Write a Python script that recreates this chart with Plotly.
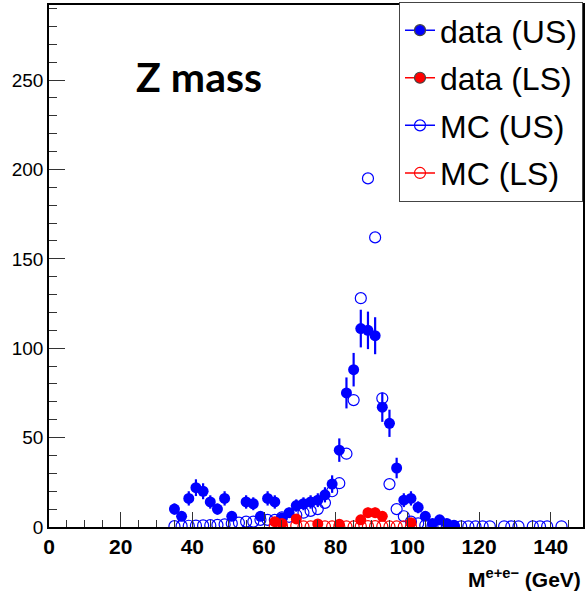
import numpy as np
import plotly.graph_objects as go

# ---- data (bin centres in GeV, 2 GeV bins) ----
data_us_x = [35, 37, 39, 41, 43, 45, 47, 49, 51, 55, 57, 59, 61, 63, 65, 67, 69, 71, 73, 75,
             77, 79, 81, 83, 85, 87, 89, 91, 93, 95, 97, 99, 101, 103, 105, 107, 109, 111, 113]
data_us_y = [10, 6, 16, 22, 20, 14, 10, 16, 6, 14, 13, 6, 16, 14, 5, 8, 12, 13, 14, 15,
             18, 24, 43, 75, 88, 111, 110, 107, 67, 58, 33, 15, 16, 11, 6, 2, 4, 2, 1]

data_ls_x = [63, 65, 69, 75, 81, 87, 89, 91, 93, 101]
data_ls_y = [3, 2, 4.5, 1.7, 1.6, 4, 8, 8, 6, 2.4]

mc_us_x = [35, 37, 39, 41, 43, 45, 47, 49, 51, 53, 55, 57, 59, 61, 63, 65, 67, 69, 71, 73,
           75, 77, 79, 81, 83, 85, 87, 89, 91, 93, 95, 97, 99, 101, 103, 105, 107, 109, 111,
           113, 115, 117, 119, 121, 123, 127, 129, 131, 135, 137, 139, 143]
mc_us_y = [0.5, 0.6, 0.7, 0.8, 0.9, 1.0, 1.2, 1.5, 2, 2.4, 3, 3, 4, 4, 4, 5.4, 5.7, 6.7, 8, 9,
           10, 13.5, 20, 24.5, 41, 71, 128, 195, 162, 72, 24, 10, 6, 3, 2, 1, 0.6, 0.5, 0.4,
           0.4, 0.4, 0.4, 0.4, 0.4, 0.4, 0.4, 0.4, 0.4, 0.4, 0.4, 0.4, 0.4]

mc_ls_x = [63, 65, 69, 71, 73, 77, 79, 81, 83, 85, 87, 89, 91, 93, 95, 97, 99, 101]
mc_ls_y = [0.5, 0.5, 0.8, 0.3, 0.3, 0.3, 0.3, 0.3, 0.3, 0.3, 0.4, 0.5, 0.5, 0.4, 0.3, 0.3, 0.3, 0.3]

legend_names = ["data (US)", "data (LS)", "MC (US)", "MC (LS)"]

BLUE = "rgb(0,0,255)"
RED = "rgb(255,0,0)"

fig = go.Figure()

# MC open circles (drawn first)
fig.add_trace(go.Scatter(x=mc_us_x, y=mc_us_y, mode="markers", showlegend=False,
                         marker=dict(symbol="circle-open", size=11, color=BLUE, line=dict(width=1.2))))
fig.add_trace(go.Scatter(x=mc_ls_x, y=mc_ls_y, mode="markers", showlegend=False,
                         marker=dict(symbol="circle-open", size=11, color=RED, line=dict(width=1.2))))
# data filled with sqrt(N) errors
fig.add_trace(go.Scatter(x=data_us_x, y=data_us_y, mode="markers", showlegend=False,
                         marker=dict(symbol="circle", size=11, color=BLUE),
                         error_y=dict(type="data", array=np.sqrt(data_us_y), width=0,
                                      thickness=2.2, color=BLUE)))
fig.add_trace(go.Scatter(x=data_ls_x, y=data_ls_y, mode="markers", showlegend=False,
                         marker=dict(symbol="circle", size=11, color=RED),
                         error_y=dict(type="data", array=np.sqrt(data_ls_y), width=0,
                                      thickness=2.2, color=RED)))

# legend entries
styles = [("circle", BLUE), ("circle", RED), ("circle-open", BLUE), ("circle-open", RED)]
for i, (name, (sym, col)) in enumerate(zip(legend_names, styles)):
    fig.add_trace(go.Scatter(x=[None], y=[None], mode="lines+markers", name=name,
                             legendgroup=f"g{i}",
                             line=dict(color=col, width=1.5),
                             marker=dict(symbol=sym, size=11, color=col, line=dict(width=1.2))))

fig.update_layout(
    width=587, height=591,
    margin=dict(l=49, r=2, t=3, b=64),
    paper_bgcolor="white", plot_bgcolor="white",
    font=dict(family="Liberation Sans, Arial, sans-serif", color="black"),
    legend=dict(x=1.0, xanchor="right", y=1.006, yanchor="top",
                bgcolor="white", bordercolor="#444", borderwidth=1,
                font=dict(size=32, family="Liberation Sans, Arial, sans-serif"),
                tracegroupgap=3, traceorder="grouped",
                entrywidth=150, entrywidthmode="pixels"),
    xaxis=dict(range=[0, 149], showgrid=False, zeroline=False,
               showline=True, linecolor="black", linewidth=1.5, mirror=True,
               ticks="inside", ticklen=15, tickwidth=1, tickcolor="#333",
               tick0=0, dtick=20,
               minor=dict(ticks="inside", ticklen=7, dtick=5, tickcolor="#333", showgrid=False),
               tickfont=dict(size=21, weight="bold")),
    yaxis=dict(range=[0, 292], showgrid=False, zeroline=False,
               showline=True, linecolor="black", linewidth=1.5, mirror=True,
               ticks="inside", ticklen=16, tickwidth=1, tickcolor="#333",
               tick0=0, dtick=50,
               minor=dict(ticks="inside", ticklen=8, dtick=10, tickcolor="#333", showgrid=False),
               tickfont=dict(size=19)),
    annotations=[
        dict(text="<b>Z mass</b>", x=(200 - 49) / 536, y=(527 - 75) / 524,
             xref="paper", yref="paper", showarrow=False,
             xanchor="center", yanchor="middle",
             font=dict(family="Lato, Open Sans, sans-serif", size=41, color="black")),
        dict(text="<b>M<sup>e+e−</sup> (GeV)</b>", x=1.0, y=-0.098, xref="paper", yref="paper",
             showarrow=False, xanchor="right", yanchor="middle",
             font=dict(size=21, color="black")),
    ],
)

fig.write_html("out.html")
